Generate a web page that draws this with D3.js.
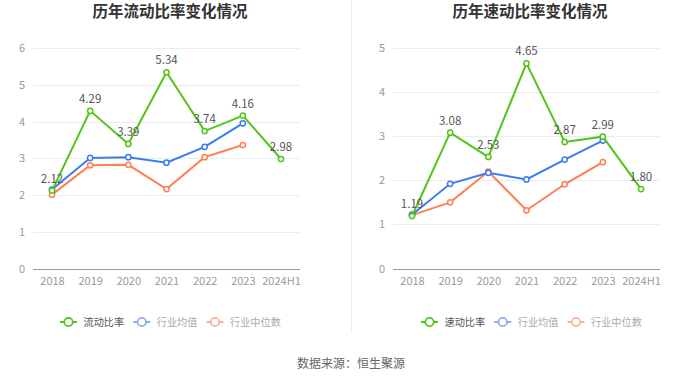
<!DOCTYPE html>
<html><head><meta charset="utf-8">
<script src="https://cdn.jsdelivr.net/npm/d3@7"></script>
<style>body{margin:0;background:#fff;}svg{display:block;font-family:"Noto Sans CJK SC","Noto Sans",sans-serif;}</style>
</head><body><svg id="c" width="700" height="378"></svg>
<script>
const categories = ["2018","2019","2020","2021","2022","2023","2024H1"];
const currentRatio = [2.12,4.29,3.39,5.34,3.74,4.16,2.98];
const currentAvg = [2.15,3.01,3.03,2.88,3.31,3.95,null];
const currentMedian = [2.01,2.81,2.82,2.16,3.03,3.36,null];
const quickRatio = [1.19,3.08,2.53,4.65,2.87,2.99,1.80];
const quickAvg = [1.22,1.92,2.17,2.02,2.47,2.90,null];
const quickMedian = [1.21,1.50,2.20,1.32,1.91,2.41,null];
const leftTicks = [0,1,2,3,4,5,6];
const rightTicks = [0,1,2,3,4,5];
const colors = {main:"#52c41a", avg:"#3d7bf0", med:"#ff7f50"};
const legendColors = {main:"#52c41a", avg:"#8fb0f5", med:"#fcb49a"};

const svg = d3.select("#c");
svg.append("line").attr("x1",351.5).attr("x2",351.5).attr("y1",0).attr("y2",333).attr("stroke","#eeeeee");
svg.append("text").attr("x",351).attr("y",368).attr("text-anchor","middle").attr("font-size",12).attr("fill","#666").text("数据来源：恒生聚源");

function drawChart(opt){
  const g = svg.append("g");
  const x = d3.scalePoint().domain(categories).range([opt.x0+19, opt.x1-19]);
  const y = d3.scaleLinear().domain([0, d3.max(opt.ticks)]).range([268.5, 48]);
  g.append("text").attr("x",opt.cx).attr("y",16.5).attr("text-anchor","middle").attr("font-size",15.5).attr("font-weight","bold").attr("fill","#333").text(opt.title);
  // grid
  g.selectAll(".grid").data(opt.ticks.filter(t=>t>0)).join("line")
    .attr("x1",opt.x0).attr("x2",opt.x1).attr("y1",d=>Math.round(y(d))+0.5).attr("y2",d=>Math.round(y(d))+0.5)
    .attr("stroke","#e8ecf5");
  // y labels
  g.selectAll(".yl").data(opt.ticks).join("text")
    .attr("x",opt.x0-8).attr("y",d=>y(d)+4).attr("text-anchor","end").attr("font-size",11).attr("fill","#999").text(d=>d);
  // x axis
  const xa = g.append("g").attr("transform",`translate(0,${Math.round(y(0))+0.5})`)
    .call(d3.axisBottom(x).tickSize(0).tickPadding(8));
  xa.select(".domain").attr("stroke","#999").attr("d",`M${opt.x0},0H${opt.x1}`);
  xa.selectAll("text").attr("font-size",11).attr("fill","#999").attr("font-family",'"Noto Sans CJK SC","Noto Sans",sans-serif');
  const series = [
    {vals:opt.med, c:colors.med},
    {vals:opt.avg, c:colors.avg},
    {vals:opt.main, c:colors.main}
  ];
  series.forEach(s=>{
    const pts = categories.map((c,i)=>({c, v:s.vals[i]})).filter(d=>d.v!=null);
    g.append("path").datum(pts).attr("fill","none").attr("stroke",s.c).attr("stroke-width",2)
      .attr("d",d3.line().x(d=>x(d.c)).y(d=>y(d.v)));
    g.selectAll(null).data(pts).join("circle").attr("cx",d=>x(d.c)).attr("cy",d=>y(d.v)).attr("r",2.6)
      .attr("fill","#fff").attr("stroke",s.c).attr("stroke-width",1.5);
  });
  g.selectAll(".lbl").data(categories.map((c,i)=>({c,v:opt.main[i]}))).join("text")
    .attr("x",d=>x(d.c)).attr("y",d=>y(d.v)-8).attr("text-anchor","middle").attr("font-size",11.5).attr("fill","#555")
    .text(d=>d.v.toFixed(2));
  // legend
  const items = [
    {name:opt.names[0], c:legendColors.main, tc:"#555"},
    {name:"行业均值", c:legendColors.avg, tc:"#aaa"},
    {name:"行业中位数", c:legendColors.med, tc:"#aaa"}
  ];
  let lx = opt.legendX;
  items.forEach(it=>{
    const lg = g.append("g").attr("transform",`translate(${lx},322)`);
    lg.append("line").attr("x1",0).attr("x2",17).attr("y1",0).attr("y2",0).attr("stroke",it.c).attr("stroke-width",2);
    lg.append("circle").attr("cx",8.5).attr("cy",0).attr("r",4.2).attr("fill","#fff").attr("stroke",it.c).attr("stroke-width",1.8);
    const t = lg.append("text").attr("x",23.5).attr("y",3.8).attr("font-size",10.2).attr("fill",it.tc).text(it.name);
    lx += 23.5 + t.node().getComputedTextLength() + 9;
  });
}

drawChart({x0:33,x1:300,cx:170,title:"历年流动比率变化情况",ticks:leftTicks,main:currentRatio,avg:currentAvg,med:currentMedian,names:["流动比率"],legendX:60});
drawChart({x0:393,x1:660,cx:530,title:"历年速动比率变化情况",ticks:rightTicks,main:quickRatio,avg:quickAvg,med:quickMedian,names:["速动比率"],legendX:421});
</script></body></html>
